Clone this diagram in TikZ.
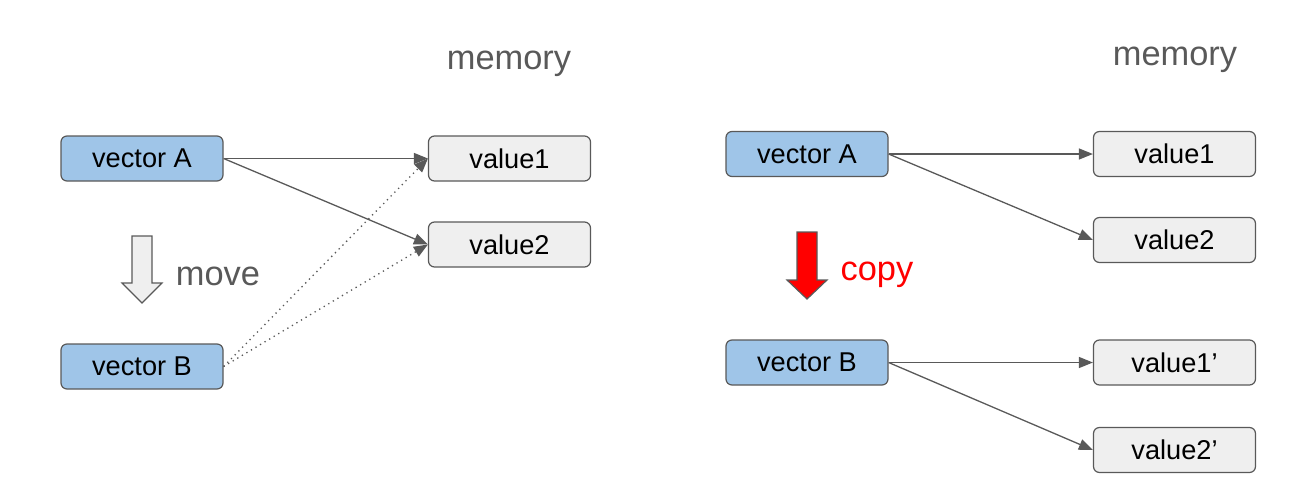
\documentclass[tikz,border=0pt]{standalone}
\usepackage{fontspec}
\setmainfont{Liberation Sans}
\usetikzlibrary{arrows.meta}
\definecolor{boxline}{HTML}{595959}
\definecolor{vecblue}{HTML}{9FC5E8}
\definecolor{valgray}{HTML}{EFEFEF}
\tikzset{
	vec/.style={draw=boxline, line width=0.6pt, fill=vecblue, rounded corners=3pt, minimum width=81pt, minimum height=22.5pt, font=\fontsize{13.6}{16}\selectfont},
	val/.style={vec, fill=valgray},
	ptr/.style={draw=boxline, line width=0.65pt, -{Triangle[length=7pt,width=5.5pt]}},
	label/.style={text=boxline, font=\fontsize{17.2}{20}\selectfont}
}
\begin{document}
\begin{tikzpicture}[x=0.5pt, y=-0.5pt]
		%%%%% START %%%%%
		\useasboundingbox (0, 0) rectangle (1303, 499);
		
		% move (left)
		\node[label] (memL) at (509, 64) {memory};
		\node[vec] (vecA) at (142, 158.5) {vector A};
		\node[vec] (vecB) at (142, 366.5) {vector B};
		\node[val] (valOne) at (509.5, 158.5) {value1};
		\node[val] (valTwo) at (509.5, 244.5) {value2};
		
		\draw[ptr] (vecA.east) -- (valOne.west);
		\draw[ptr] (vecA.east) -- (valTwo.west);
		\draw[ptr, dotted] (vecB.east) -- (valOne.west);
		\draw[ptr, dotted] (vecB.east) -- (valTwo.west);
		
		\draw[boxline, line width=0.6pt, fill=valgray] (132, 236) -- (152, 236) -- (152, 283) -- (162, 283) -- (142, 303) -- (122, 283) -- (132, 283) -- cycle;
		\node[label] (moveTxt) at (218, 276) {move};
		
		% copy (right)
		\node[label] (memR) at (1175, 60) {memory};
		\node[vec] (vecAr) at (807, 154) {vector A};
		\node[vec] (vecBr) at (807, 362.5) {vector B};
		\node[val] (valOner) at (1174.5, 154) {value1};
		\node[val] (valTwor) at (1174.5, 240) {value2};
		\node[val] (valOnec) at (1174.5, 362.5) {value1’};
		\node[val] (valTwoc) at (1174.5, 450) {value2’};
		
		\draw[ptr] (vecAr.east) -- (valOner.west);
		\draw[ptr] (vecAr.east) -- (valTwor.west);
		\draw[ptr] (vecBr.east) -- (valOnec.west);
		\draw[ptr] (vecBr.east) -- (valTwoc.west);
		
		\draw[boxline, line width=0.6pt, fill=red] (797, 232) -- (817, 232) -- (817, 280) -- (827, 280) -- (807, 299) -- (787, 280) -- (797, 280) -- cycle;
		\node[label, text=red] (copyTxt) at (877, 275) {copy};
		%%%%% END %%%%%
	\end{tikzpicture}
\end{document}
